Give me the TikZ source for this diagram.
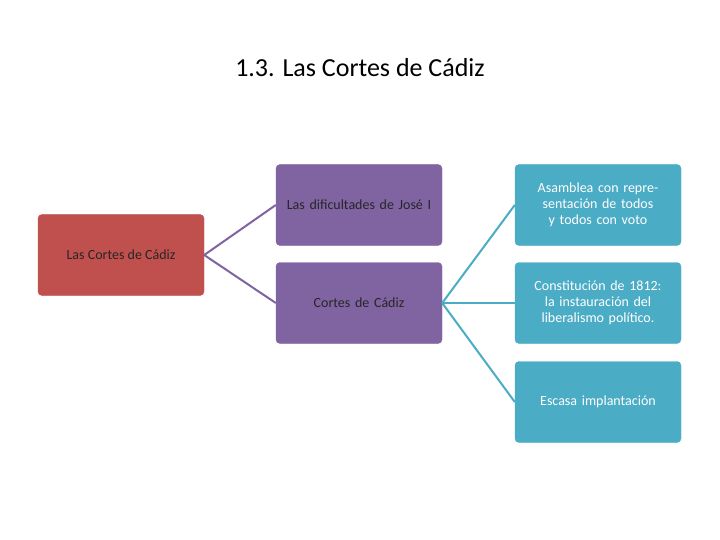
\documentclass[tikz,border=0pt]{standalone}
\usepackage{fontspec}
\setmainfont{Carlito}
\begin{document}
\begin{tikzpicture}[x=1pt,y=-1pt,
  box/.style={rounded corners=4pt,minimum width=166pt,minimum height=81pt,inner sep=2pt,align=center,text width=158pt,font=\fontsize{14}{16}\selectfont},
  rbox/.style={box,fill={rgb,255:red,192;green,80;blue,77},draw={rgb,255:red,192;green,80;blue,77}},
  pbox/.style={box,fill={rgb,255:red,128;green,100;blue,162},draw={rgb,255:red,128;green,100;blue,162},text=black!85},
  bbox/.style={box,fill={rgb,255:red,75;green,172;blue,198},draw={rgb,255:red,75;green,172;blue,198},text=white},
  pline/.style={draw={rgb,255:red,128;green,100;blue,162},line width=2pt},
  bline/.style={draw={rgb,255:red,75;green,172;blue,198},line width=2pt}]
\useasboundingbox[fill=white] (0,0) rectangle (720,540);
\node (title) at (360,68) {\fontsize{26}{30}\selectfont 1.3. Las Cortes de Cádiz};
\node[rbox] (r) at (121,255) {};
\node[font=\fontsize{14}{16}\selectfont,text=black!85] (rl) at (121,255) {Las Cortes de Cádiz};
\node[pbox] (p1) at (359,205) {Las dificultades de José I};
\node[pbox] (p2) at (359,303) {Cortes de Cádiz};
\node[bbox] (b1) at (598,205) {Asamblea con representación de todos y todos con voto};
\node[bbox] (b2) at (598,303) {Constitución de 1812: la instauración del liberalismo político.};
\node[bbox] (b3) at (598,402) {Escasa implantación};
\draw[pline] (r.east) -- (p1.west);
\draw[pline] (r.east) -- (p2.west);
\draw[bline] (p2.east) -- (b1.west);
\draw[bline] (p2.east) -- (b2.west);
\draw[bline] (p2.east) -- (b3.west);
\end{tikzpicture}
\end{document}
